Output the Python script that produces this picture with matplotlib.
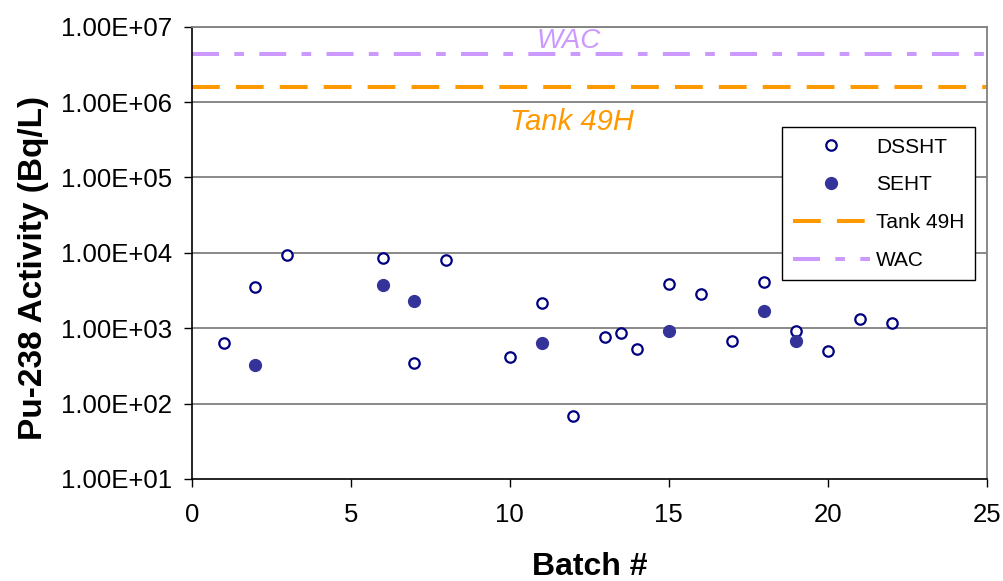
import matplotlib
matplotlib.use("Agg")
import matplotlib.pyplot as plt
from matplotlib.ticker import FuncFormatter, FixedLocator, NullLocator

plt.rcParams['font.family'] = ['Liberation Sans', 'DejaVu Sans']

# DSSHT batches (open circles)
dsst_batch = [1, 2, 3, 6, 7, 8, 10, 11, 12, 13, 13.5, 14, 15, 16, 17, 18, 19, 20, 21, 22]
dsst_act = [630, 3500, 9400, 8500, 350, 8000, 415, 2180, 68, 760, 870, 535,
            3850, 2830, 670, 4060, 925, 500, 1320, 1170]

# SEHT batches (filled circles)
seht_batch = [2, 6, 7, 11, 15, 18, 19]
seht_act = [325, 3800, 2300, 630, 925, 1700, 670]

tank_49h = 1.6e6
wac = 4.3e6

fig = plt.figure(figsize=(10.04, 5.81), dpi=100)
ax = fig.add_axes([0.191, 0.1756, 0.792, 0.7784])

ax.set_yscale('log')
ax.set_xlim(0, 25)
ax.set_ylim(10, 1e7)

for v in [1e2, 1e3, 1e4, 1e5, 1e6, 1e7]:
    ax.axhline(v, color='#808080', lw=1.3, zorder=1)

ax.plot(dsst_batch, dsst_act, 'o', ls='none', ms=7.5, mfc='white', mec='#000080',
        mew=1.6, label='DSSHT', zorder=3)
ax.plot(seht_batch, seht_act, 'o', ls='none', ms=8.5, mfc='#333399', mec='#333399',
        mew=1, label='SEHT', zorder=3)
ax.axhline(tank_49h, color='#FF9900', lw=2.9, ls=(0, (6.9, 4.0)), label='Tank 49H', zorder=2)
ax.axhline(wac, color='#CC99FF', lw=2.9, ls=(0, (6.7, 3.8, 2.4, 3.8)), label='WAC', zorder=2)

ax.text(11.85, 6.5e6, 'WAC', color='#CC99FF', fontsize=20, style='italic',
        ha='center', va='center')
ax.text(11.95, 5.4e5, 'Tank 49H', color='#FF9900', fontsize=21, style='italic',
        ha='center', va='center')

ax.yaxis.set_major_locator(FixedLocator([1e1, 1e2, 1e3, 1e4, 1e5, 1e6, 1e7]))
ax.yaxis.set_minor_locator(NullLocator())
ax.yaxis.set_major_formatter(FuncFormatter(lambda v, p: f"{v:.2E}"))
ax.set_xticks([0, 5, 10, 15, 20, 25])

ax.tick_params(axis='both', direction='out', length=6, width=1, labelsize=18.5, pad=8)
ax.tick_params(axis='x', pad=11)

for s in ['top', 'right']:
    ax.spines[s].set_color('#808080')
    ax.spines[s].set_linewidth(1.3)
for s in ['left', 'bottom']:
    ax.spines[s].set_color('black')
    ax.spines[s].set_linewidth(1.2)

ax.set_xlabel('Batch #', fontsize=23, fontweight='bold', labelpad=18)
ax.set_ylabel('Pu-238 Activity (Bq/L)', fontsize=24, fontweight='bold')
ax.yaxis.set_label_coords(-0.18, 0.466)

leg = ax.legend(loc='upper right', bbox_to_anchor=(0.985, 0.778), borderaxespad=0,
                fontsize=15, numpoints=1, handlelength=3.7, handletextpad=0.3,
                labelspacing=0.9, fancybox=False, framealpha=1, edgecolor='black',
                borderpad=0.5)
leg.get_frame().set_linewidth(1.0)

fig.savefig('out.png', dpi=100)
